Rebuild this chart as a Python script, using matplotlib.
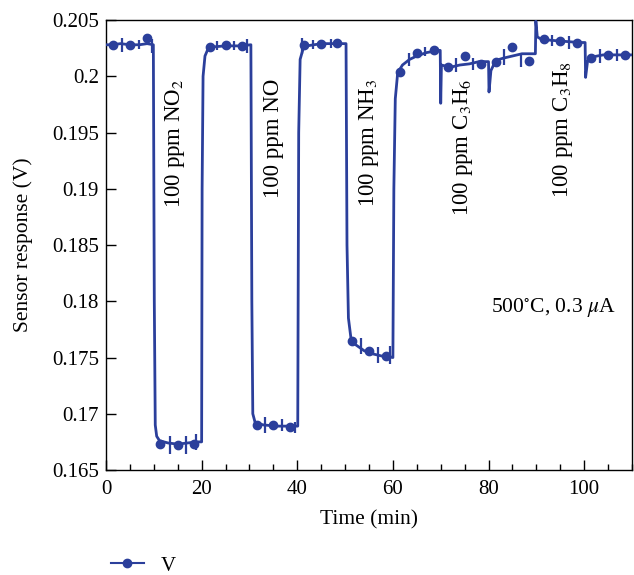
import numpy as np
import matplotlib
matplotlib.use("Agg")
import matplotlib.pyplot as plt
from matplotlib.lines import Line2D

plt.rcParams['font.family'] = ['Liberation Serif', 'DejaVu Serif']
plt.rcParams['mathtext.fontset'] = 'stix'
plt.rcParams['font.size'] = 15

BLUE = '#2B3F9B'

# sensor trace (time in min, response in V)
time = [0, 1.5, 3, 5, 7, 8.6, 9.9,
        10.1, 10.3, 10.6, 11.2, 13, 15, 17, 19, 20.0,
        20.1, 20.3, 20.7, 21.3, 22, 25, 28, 30.3,
        30.5, 30.7, 31.2, 33, 36, 39, 40.1,
        40.3, 40.6, 41.2, 42, 45, 48, 50.2,
        50.4, 50.7, 51.2, 52, 53, 54, 56, 58, 60,
        60.2, 60.5, 61, 62, 63.5, 65, 67, 69.5,
        69.9, 70.0, 70.15, 72, 74, 76, 78, 80,
        80.1, 80.5, 81.5, 83, 85, 87, 89.8,
        89.9, 90.2, 91, 93, 96, 99, 100.2,
        100.3, 100.7, 101.5, 104, 107, 110]
volt = [0.2028, 0.2028, 0.2029, 0.2028, 0.2028, 0.2029, 0.2028,
        0.1800, 0.1690, 0.1680, 0.1676, 0.1674, 0.1673, 0.1674, 0.1675, 0.1675,
        0.1900, 0.2000, 0.2018, 0.2024, 0.2026, 0.2027, 0.2027, 0.2028,
        0.1800, 0.1700, 0.1692, 0.1690, 0.1689, 0.1689, 0.1689,
        0.1950, 0.2015, 0.2024, 0.2027, 0.2029, 0.2029, 0.2029,
        0.1850, 0.1785, 0.1768, 0.1762, 0.1759, 0.1756, 0.1753, 0.1751, 0.1750,
        0.1900, 0.1980, 0.2003, 0.2010, 0.2015, 0.2018, 0.2021, 0.2023,
        0.2023, 0.1976, 0.2010, 0.2008, 0.2010, 0.2011, 0.2013, 0.2013,
        0.1986, 0.2005, 0.2014, 0.2016, 0.2018, 0.2020, 0.2020,
        0.2049, 0.2035, 0.2033, 0.2032, 0.2031, 0.2030, 0.2030,
        0.1999, 0.2013, 0.2017, 0.2019, 0.2019, 0.2019]

# marked points
mk_t = [1.5, 5.0, 8.6, 11.2, 15.0, 18.5, 21.7, 25.0, 28.4, 31.5, 35.0, 38.5,
        41.5, 45.0, 48.3, 51.5, 55.0, 58.5, 61.5, 65.0, 68.5, 71.5, 75.0, 78.5,
        81.5, 85.0, 88.5, 91.5, 95.0, 98.5, 101.5, 105.0, 108.5]
mk_v = [0.2028, 0.2028, 0.2034, 0.1673, 0.1672, 0.1673, 0.2026, 0.2028, 0.2027,
        0.1690, 0.1690, 0.1688, 0.2028, 0.2029, 0.2030, 0.1765, 0.1756, 0.1751,
        0.2004, 0.2021, 0.2023, 0.2008, 0.2018, 0.2011, 0.2013, 0.2026, 0.2014,
        0.2033, 0.2031, 0.2030, 0.2016, 0.2019, 0.2019]

# error bars without markers
eb_t = [3.3, 6.8, 9.6, 13.3, 16.8, 18.9, 23.3, 26.8, 29.5, 33.3, 36.8, 39.5,
        41.0, 43.3, 47.0, 53.3, 56.8, 59.3, 63.3, 66.8, 73.3, 76.8,
        83.3, 86.8, 93.3, 96.8, 103.3, 106.8]
eb_v = [0.2028, 0.2028, 0.2027, 0.1672, 0.1672, 0.1675, 0.2027, 0.2027, 0.2027,
        0.1690, 0.1690, 0.1688, 0.2027, 0.2028, 0.2029, 0.1760, 0.1752, 0.1752,
        0.2015, 0.2022, 0.2010, 0.2011, 0.2017, 0.2014, 0.2032, 0.2030,
        0.2018, 0.2019]
eb_e = [0.0006, 0.0004, 0.0006, 0.0008, 0.0008, 0.0007, 0.0004, 0.0004, 0.0006,
        0.0007, 0.0005, 0.0005, 0.0007, 0.0004, 0.0004, 0.0007, 0.0007, 0.0008,
        0.0006, 0.0004, 0.0006, 0.0005, 0.0007, 0.0006, 0.0005, 0.0006,
        0.0006, 0.0005]

gases = ['100 ppm NO$_2$', '100 ppm NO', '100 ppm NH$_3$',
         '100 ppm C$_3$H$_6$', '100 ppm C$_3$H$_8$']
gas_t = [14.4, 35.0, 55.0, 74.6, 95.5]
gas_v = [0.1998, 0.1998, 0.1998, 0.1998, 0.2014]

fig = plt.figure(figsize=(6.34, 5.75), dpi=100)
ax = fig.add_axes([0.1672, 0.1826, 0.8296, 0.7826])

ax.plot(time, volt, color=BLUE, lw=2.0, zorder=3)
ax.errorbar(eb_t, eb_v, yerr=eb_e, fmt='none', ecolor=BLUE, elinewidth=1.6,
            capsize=0, zorder=3)
ax.plot(mk_t, mk_v, 'o', color=BLUE, ms=6, zorder=4)

for lab, t, v in zip(gases, gas_t, gas_v):
    ax.text(t, v, lab, rotation=90, ha='center', va='top', fontsize=16.5)

ax.text(93.5, 0.1794, '500$^{\\circ}$C, 0.3 $\\mu$A', ha='center', va='center',
        fontsize=15.5)

ax.set_xlim(0, 110)
ax.set_ylim(0.165, 0.205)
ax.set_xticks([0, 20, 40, 60, 80, 100])
ax.set_xticks(np.arange(0, 111, 5), minor=True)
ax.set_yticks(np.arange(0.165, 0.2051, 0.005))
ax.set_yticklabels(['0.165', '0.17', '0.175', '0.18', '0.185', '0.19',
                    '0.195', '0.2', '0.205'])
ax.tick_params(direction='in', length=7, width=1, labelsize=15)
ax.tick_params(which='minor', direction='in', length=4, width=1)
ax.tick_params(axis='x', pad=7)
ax.tick_params(axis='y', pad=5)
for s in ax.spines.values():
    s.set_linewidth(1.0)

ax.set_xlabel('Time (min)', fontsize=15.5, labelpad=8)
ax.set_ylabel('Sensor response (V)', fontsize=15.5, labelpad=14)

handle = Line2D([], [], color=BLUE, lw=1.5, marker='o', ms=6)
fig.legend([handle], ['V'], loc='center left', bbox_to_anchor=(0.145, 0.016),
           frameon=False, fontsize=15, handlelength=1.6, handletextpad=0.8)

fig.savefig('out.png', dpi=100)
